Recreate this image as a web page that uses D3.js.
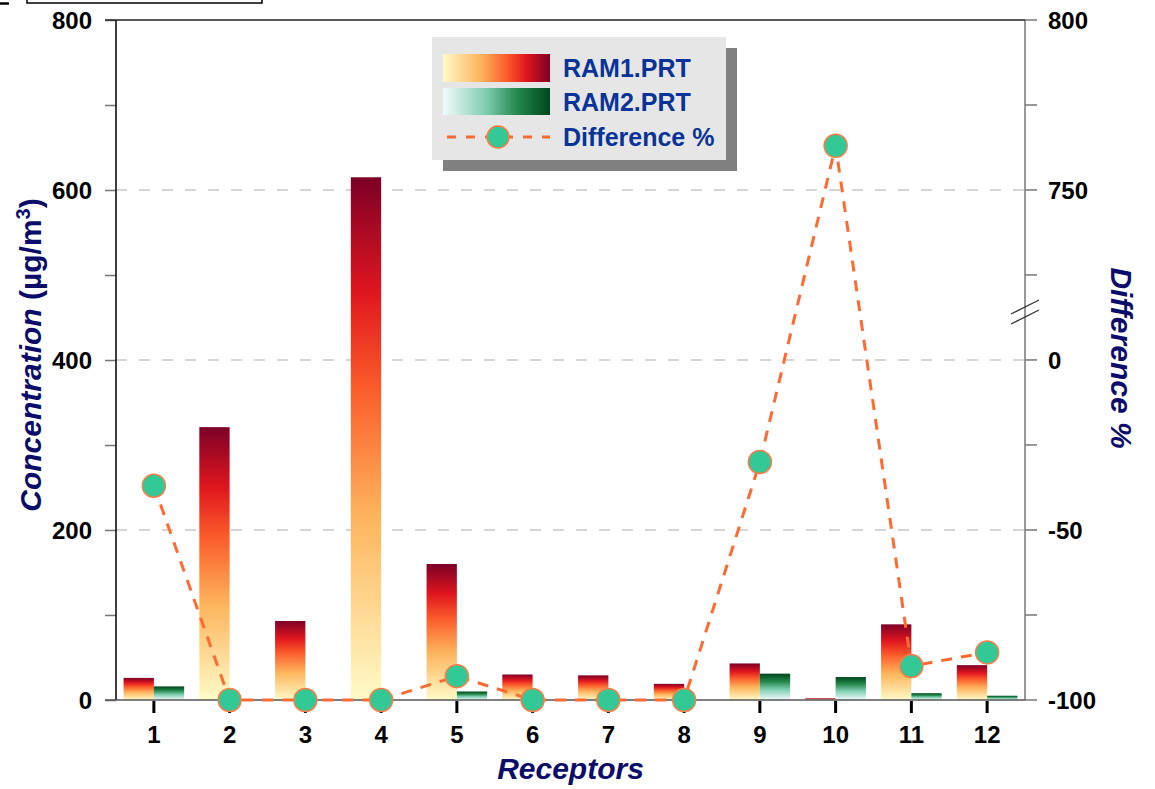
<!DOCTYPE html>
<html>
<head>
<meta charset="utf-8">
<script src="https://cdn.jsdelivr.net/npm/d3@7"></script>
<style>
	html, body { margin: 0; padding: 0; background: #fff; }
	svg { display: block; font-family: Arial, "Liberation Sans", sans-serif; }
</style>
</head>
<body>
<svg id="chart" width="1155" height="789"></svg>
<script>
// Data
var receptors = ["1", "2", "3", "4", "5", "6", "7", "8", "9", "10", "11", "12"];
var ram1 = [26, 321, 93, 615, 160, 30, 29, 19, 43, 2, 89, 41];
var ram2 = [16, 0, 0, 0, 10, 0, 0, 0, 31, 27, 8, 5];
var difference = [-37, -100, -100, -100, -93, -100, -100, -100, -30, 763, -90, -86];
var leftTicks = [0, 200, 400, 600, 800];
var rightTicks = [-100, -50, 0, 750, 800];
var seriesNames = ["RAM1.PRT", "RAM2.PRT", "Difference %"];

var svg = d3.select("#chart");

var plotLeft = 116, plotRight = 1025, plotTop = 20, plotBottom = 700;

// Scales
var x = d3.scaleBand()
	.domain(receptors)
	.range([plotLeft, plotRight])
	.paddingInner(0.2)
	.paddingOuter(0.1);

var xSub = d3.scaleBand()
	.domain(["ram1", "ram2"])
	.range([0, x.bandwidth()]);

var y = d3.scaleLinear()
	.domain([0, 800])
	.range([plotBottom, plotTop]);

// broken right axis: -100..14 below the break, 714..800 above it
var yBreak = 312;
var y2 = d3.scaleLinear()
	.domain([-100, 14.1, 714.1, 800])
	.range([plotBottom, yBreak, yBreak, plotTop]);

// Gradients
var defs = svg.append("defs");

function addGradient(id, stops, horizontal) {
	var g = defs.append("linearGradient")
		.attr("id", id)
		.attr("x1", 0).attr("y1", horizontal ? 0 : 1)
		.attr("x2", horizontal ? 1 : 0).attr("y2", 0);
	stops.forEach(function (s) {
		g.append("stop").attr("offset", s[0]).attr("stop-color", s[1]);
	});
}

var redStops = [[0, "#fffbc8"], [0.35, "#fdb45c"], [0.6, "#fb5a2a"], [0.78, "#e0161e"], [1, "#7d0027"]];
var greenStops = [[0, "#f2fbfd"], [0.4, "#7fcdb1"], [0.7, "#23874a"], [1, "#00461c"]];
addGradient("gRed", redStops, false);
addGradient("gGreen", greenStops, false);
addGradient("gRedH", redStops, true);
addGradient("gGreenH", greenStops, true);

// top-left cropped box
svg.append("rect")
	.attr("x", 27).attr("y", -20)
	.attr("width", 235).attr("height", 23)
	.attr("fill", "#fff").attr("stroke", "#000").attr("stroke-width", 1.5);
svg.append("line")
	.attr("x1", 0).attr("x2", 9).attr("y1", 3.5).attr("y2", 3.5)
	.attr("stroke", "#000").attr("stroke-width", 2.5);

// Gridlines
svg.append("g")
	.selectAll("line")
	.data([200, 400, 600])
	.enter().append("line")
	.attr("x1", plotLeft).attr("x2", plotRight)
	.attr("y1", function (d) { return y(d); })
	.attr("y2", function (d) { return y(d); })
	.attr("stroke", "#c8c8c8")
	.attr("stroke-width", 1.5)
	.attr("stroke-dasharray", "11,12");

// Bars
var groups = svg.append("g")
	.selectAll("g")
	.data(receptors)
	.enter().append("g")
	.attr("transform", function (d) { return "translate(" + x(d) + ",0)"; });

groups.append("rect")
	.attr("x", xSub("ram1"))
	.attr("width", xSub.bandwidth())
	.attr("y", function (d, i) { return y(ram1[i]); })
	.attr("height", function (d, i) { return plotBottom - y(ram1[i]); })
	.attr("fill", "url(#gRed)");

groups.append("rect")
	.attr("x", xSub("ram2"))
	.attr("width", xSub.bandwidth())
	.attr("y", function (d, i) { return y(ram2[i]); })
	.attr("height", function (d, i) { return plotBottom - y(ram2[i]); })
	.attr("fill", "url(#gGreen)");

// Left axis
var leftAxis = svg.append("g")
	.attr("transform", "translate(" + plotLeft + ",0)")
	.call(d3.axisLeft(y).tickValues(d3.range(0, 801, 100)).tickSize(11).tickFormat(""));
leftAxis.select(".domain").remove();
leftAxis.selectAll(".tick line").attr("stroke", "#777").attr("stroke-width", 1.5);
svg.append("line")
	.attr("x1", plotLeft).attr("x2", plotLeft).attr("y1", plotTop).attr("y2", plotBottom)
	.attr("stroke", "#000").attr("stroke-width", 1.5);

svg.append("g")
	.selectAll("text")
	.data(leftTicks)
	.enter().append("text")
	.attr("x", 92).attr("y", function (d) { return y(d); })
	.attr("dy", "0.36em")
	.attr("text-anchor", "end")
	.attr("font-size", 24).attr("font-weight", "bold")
	.text(function (d) { return d; });

// Right axis
var rightMinor = [-100, -75, -50, -25, 0, 725, 750, 775, 800];
svg.append("g")
	.selectAll("line")
	.data(rightMinor)
	.enter().append("line")
	.attr("x1", plotRight).attr("x2", plotRight + 12)
	.attr("y1", function (d) { return y2(d); })
	.attr("y2", function (d) { return y2(d); })
	.attr("stroke", "#777").attr("stroke-width", 1.5);
svg.append("line")
	.attr("x1", plotRight).attr("x2", plotRight).attr("y1", plotTop).attr("y2", plotBottom)
	.attr("stroke", "#777").attr("stroke-width", 1.5);
// break marks
[-5, 5].forEach(function (o) {
	svg.append("line")
		.attr("x1", plotRight - 14).attr("x2", plotRight + 14)
		.attr("y1", yBreak + o + 7).attr("y2", yBreak + o - 7)
		.attr("stroke", "#333").attr("stroke-width", 1.2);
});
svg.append("g")
	.selectAll("text")
	.data(rightTicks)
	.enter().append("text")
	.attr("x", 1048).attr("y", function (d) { return y2(d); })
	.attr("dy", "0.36em")
	.attr("font-size", 24).attr("font-weight", "bold")
	.text(function (d) { return d; });

// Top and bottom lines
svg.append("line")
	.attr("x1", 105).attr("x2", plotRight).attr("y1", plotTop).attr("y2", plotTop)
	.attr("stroke", "#222").attr("stroke-width", 1.5);
svg.append("line")
	.attr("x1", 105).attr("x2", plotRight).attr("y1", plotBottom).attr("y2", plotBottom)
	.attr("stroke", "#555").attr("stroke-width", 1.5);

// X axis ticks and labels
var xAxis = svg.append("g")
	.attr("transform", "translate(0," + (plotBottom + 1) + ")")
	.call(d3.axisBottom(x).tickSize(12).tickPadding(13));
xAxis.select(".domain").remove();
xAxis.selectAll(".tick line").attr("stroke", "#000").attr("stroke-width", 3);
xAxis.selectAll(".tick text")
	.attr("font-size", 24).attr("font-weight", "bold")
	.attr("font-family", "Arial, 'Liberation Sans', sans-serif")
	.attr("fill", "#000");

// Difference line
var line = d3.line()
	.x(function (d, i) { return x(receptors[i]) + x.bandwidth() / 2; })
	.y(function (d) { return y2(d); });

svg.append("path")
	.datum(difference)
	.attr("d", line)
	.attr("fill", "none")
	.attr("stroke", "#ff6a33")
	.attr("stroke-width", 3)
	.attr("stroke-dasharray", "11,9");

svg.append("g")
	.selectAll("circle")
	.data(difference)
	.enter().append("circle")
	.attr("cx", function (d, i) { return x(receptors[i]) + x.bandwidth() / 2; })
	.attr("cy", function (d) { return y2(d); })
	.attr("r", 11.5)
	.attr("fill", "#33c996")
	.attr("stroke", "#ff7a45")
	.attr("stroke-width", 1.5);

// Axis titles
svg.append("text")
	.attr("x", (plotLeft + plotRight) / 2).attr("y", 779)
	.attr("text-anchor", "middle")
	.attr("font-size", 30).attr("font-weight", "bold").attr("font-style", "italic")
	.attr("fill", "#0c0c6a")
	.text("Receptors");

var yTitle = svg.append("text")
	.attr("transform", "translate(41,355) rotate(-90)")
	.attr("text-anchor", "middle")
	.attr("font-size", 30).attr("font-weight", "bold")
	.attr("fill", "#0c0c6a");
yTitle.append("tspan").attr("font-style", "italic").text("Concentration");
yTitle.append("tspan").text(" (µg/m");
yTitle.append("tspan").attr("font-size", 20).attr("dy", -11).text("3");
yTitle.append("tspan").attr("dy", 11).text(")");

svg.append("text")
	.attr("transform", "translate(1111,358) rotate(90)")
	.attr("text-anchor", "middle")
	.attr("font-size", 30).attr("font-weight", "bold").attr("font-style", "italic")
	.attr("fill", "#0c0c6a")
	.text("Difference %");

// Legend
var legend = svg.append("g");
legend.append("rect")
	.attr("x", 443).attr("y", 48).attr("width", 294).attr("height", 123)
	.attr("fill", "#808080");
legend.append("rect")
	.attr("x", 432).attr("y", 37).attr("width", 294).attr("height", 123)
	.attr("fill", "#e6e6e6");

var legendY = [68, 102, 137];
legend.append("rect")
	.attr("x", 443).attr("y", 54).attr("width", 107).attr("height", 28)
	.attr("fill", "url(#gRedH)");
legend.append("rect")
	.attr("x", 443).attr("y", 88).attr("width", 107).attr("height", 27)
	.attr("fill", "url(#gGreenH)");
legend.append("line")
	.attr("x1", 447).attr("x2", 550).attr("y1", legendY[2]).attr("y2", legendY[2])
	.attr("stroke", "#ff6a33").attr("stroke-width", 3)
	.attr("stroke-dasharray", "9,10");
legend.append("circle")
	.attr("cx", 498).attr("cy", legendY[2]).attr("r", 11)
	.attr("fill", "#33c996").attr("stroke", "#ff7a45").attr("stroke-width", 1.5);

legend.selectAll("text.lbl")
	.data(seriesNames)
	.enter().append("text")
	.attr("class", "lbl")
	.attr("x", 563).attr("y", function (d, i) { return legendY[i]; })
	.attr("dy", "0.36em")
	.attr("font-size", 25).attr("font-weight", "bold")
	.attr("fill", "#0a3399")
	.text(function (d) { return d; });
</script>
</body>
</html>
